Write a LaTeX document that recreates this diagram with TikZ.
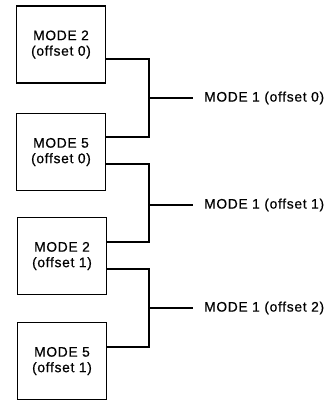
\documentclass[tikz,border=0pt]{standalone}
\usepackage{fontspec}
\setmainfont[LetterSpace=5,FakeBold=0.6]{Liberation Sans}
\usetikzlibrary{calc}
\begin{document}
\begin{tikzpicture}[x=1pt,y=1pt,
  modebox/.style={draw,line width=1.7pt,minimum width=89pt,minimum height=77pt,inner sep=0pt,align=center,font=\fontsize{13.8}{15.5}\selectfont},
  outlabel/.style={anchor=west,inner ysep=0pt,inner xsep=11pt,font=\fontsize{13.8}{15.5}\selectfont},
  wire/.style={line width=1.7pt}]
\useasboundingbox (0,0) rectangle (329,-401);
\node[modebox] (b1) at (61,-44.5) {MODE 2\\(offset 0)};
\node[modebox] (b2) at (61,-152) {MODE 5\\(offset 0)};
\node[modebox] (b3) at (62,-256) {MODE 2\\(offset 1)};
\node[modebox] (b4) at (62,-361) {MODE 5\\(offset 1)};
\coordinate (j1) at (149,-98);
\coordinate (j2) at (149,-205);
\coordinate (j3) at (149,-308);
\node[outlabel] (l1) at (193,-98) {MODE 1 (offset 0)};
\node[outlabel] (l2) at (193,-205) {MODE 1 (offset 1)};
\node[outlabel] (l3) at (193,-308) {MODE 1 (offset 2)};
\draw[wire] ([yshift=-14.5pt]b1.east) -| (j1) |- ([yshift=15pt]b2.east);
\draw[wire] ([yshift=-12pt]b2.east) -| (j2) |- ([yshift=14pt]b3.east);
\draw[wire] ([yshift=-13pt]b3.east) -| (j3) |- ([yshift=14pt]b4.east);
\draw[wire] (j1) -- (l1.west);
\draw[wire] (j2) -- (l2.west);
\draw[wire] (j3) -- (l3.west);
\end{tikzpicture}
\end{document}
